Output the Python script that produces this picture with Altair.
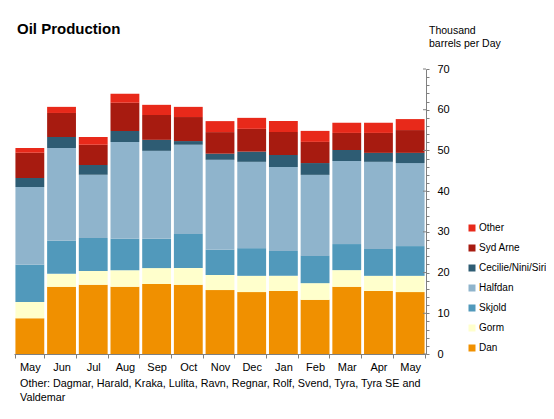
import json
import altair as alt
import pandas as pd

months = ["May", "Jun", "Jul", "Aug", "Sep", "Oct", "Nov", "Dec", "Jan", "Feb", "Mar", "Apr", "May"]
fields = ["Dan", "Gorm", "Skjold", "Halfdan", "Cecilie/Nini/Siri", "Syd Arne", "Other"]
dan = [8.8, 16.5, 17.0, 16.5, 17.2, 17.0, 15.7, 15.2, 15.5, 13.3, 16.5, 15.5, 15.2]
gorm = [4.0, 3.2, 3.4, 4.1, 3.9, 4.1, 3.7, 4.0, 3.7, 4.1, 4.1, 3.7, 4.0]
skjold = [9.1, 8.1, 8.1, 7.7, 7.2, 8.4, 6.2, 6.8, 6.1, 6.7, 6.4, 6.6, 7.3]
halfdan = [19.1, 22.8, 15.5, 23.8, 21.6, 21.9, 22.1, 21.2, 20.6, 19.9, 20.4, 21.4, 20.4]
cecilie = [2.2, 2.7, 2.4, 2.7, 2.7, 0.9, 1.5, 2.5, 3.0, 2.9, 2.7, 2.2, 2.5]
syd_arne = [6.2, 5.9, 5.0, 6.9, 6.1, 5.9, 5.3, 5.6, 5.6, 5.2, 4.2, 4.9, 5.6]
other = [1.2, 1.5, 1.9, 2.2, 2.5, 2.5, 2.7, 2.7, 2.7, 2.7, 2.5, 2.5, 2.7]
colors = ["#F09000", "#FFFFCC", "#5199BB", "#8FB4CC", "#2E5C73", "#A71B10", "#E8291A"]
major_ticks = [0, 10, 20, 30, 40, 50, 60, 70]
minor_ticks = list(range(0, 71, 2))

title_text = "Oil Production"
unit_lines = ["Thousand", "barrels per Day"]
note_lines = ["Other: Dagmar, Harald, Kraka, Lulita, Ravn, Regnar, Rolf, Svend, Tyra, Tyra SE and",
              "Valdemar"]

series = [dan, gorm, skjold, halfdan, cecilie, syd_arne, other]
rows = []
for k, (name, vals) in enumerate(zip(fields, series)):
    for i, v in enumerate(vals):
        rows.append({"idx": i, "field": name, "value": v, "order": k})
df = pd.DataFrame(rows)

FONT = "Liberation Sans"
W, H = 412, 285
GRAY = "#808080"

label_expr = json.dumps(months) + "[datum.value]"
y_scale = alt.Scale(domain=[0, 70], nice=False, zero=True)
y_axis = alt.Axis(orient="right", values=minor_ticks, tickSize=3, labelPadding=8,
                  labelExpr="datum.value % 10 === 0 ? datum.label : ''",
                  domainColor=GRAY, tickColor=GRAY, labelFont=FONT, labelFontSize=11,
                  labelColor="#000000", title=None, grid=False)

legend_domain = list(reversed(fields))
legend_range = list(reversed(colors))

bars = alt.Chart(df).mark_bar().encode(
    x=alt.X("idx:O", title=None,
            scale=alt.Scale(paddingInner=0.09, paddingOuter=0.045),
            axis=alt.Axis(labelExpr=label_expr, tickBand="extent", tickSize=4, labelAngle=0,
                          labelPadding=3, domainColor=GRAY, tickColor=GRAY, labelFont=FONT,
                          labelFontSize=11, labelColor="#000000", grid=False)),
    y=alt.Y("value:Q", stack="zero", scale=y_scale, axis=y_axis),
    color=alt.Color("field:N", scale=alt.Scale(domain=legend_domain, range=legend_range),
                    legend=alt.Legend(orient="none", legendX=453, legendY=154, title=None,
                                      symbolType="square", symbolSize=49, symbolStrokeWidth=0,
                                      labelFont=FONT, labelFontSize=10, labelColor="#000000",
                                      rowPadding=10, labelOffset=2, padding=0, labelLimit=200)),
    order=alt.Order("order:Q", sort="ascending"),
)

inner_ticks = alt.Chart(pd.DataFrame({"value": major_ticks})).mark_rule(color=GRAY, strokeWidth=1).encode(
    y=alt.Y("value:Q", scale=y_scale, axis=y_axis),
    x=alt.value(W - 3), x2=alt.value(W),
)

title = alt.Chart(pd.DataFrame({"t": [title_text]})).mark_text(
    font=FONT, fontSize=15, fontWeight="bold", align="left", baseline="alphabetic", color="#000000"
).encode(text="t:N", x=alt.value(3), y=alt.value(-35))

unit1 = alt.Chart(pd.DataFrame({"t": [unit_lines[0]]})).mark_text(
    font=FONT, fontSize=10.5, align="left", baseline="alphabetic", color="#000000"
).encode(text="t:N", x=alt.value(415), y=alt.value(-35))
unit2 = alt.Chart(pd.DataFrame({"t": [unit_lines[1]]})).mark_text(
    font=FONT, fontSize=10.5, align="left", baseline="alphabetic", color="#000000"
).encode(text="t:N", x=alt.value(415), y=alt.value(-22))

note1 = alt.Chart(pd.DataFrame({"t": [note_lines[0]]})).mark_text(
    font=FONT, fontSize=10.8, align="left", baseline="middle", color="#000000"
).encode(text="t:N", x=alt.value(6), y=alt.value(315))
note2 = alt.Chart(pd.DataFrame({"t": [note_lines[1]]})).mark_text(
    font=FONT, fontSize=10.8, align="left", baseline="middle", color="#000000"
).encode(text="t:N", x=alt.value(6), y=alt.value(329))

chart = alt.layer(bars, inner_ticks, title, unit1, unit2, note1, note2).properties(
    width=W, height=H,
    autosize=alt.AutoSizeParams(type="none"),
    padding={"left": 6, "top": 61, "right": 120, "bottom": 57},
    background="white",
).configure_view(stroke=None)

chart.save("out.html", embed_options={"renderer": "svg", "actions": False})
